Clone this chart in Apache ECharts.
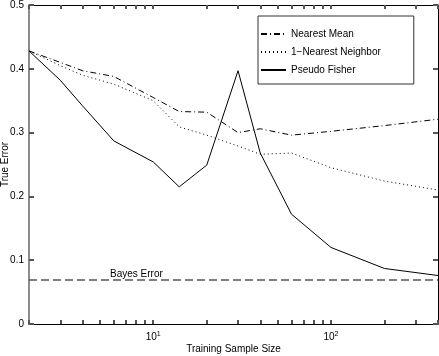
<!DOCTYPE html>
<html><head><meta charset="utf-8">
<script src="https://cdn.jsdelivr.net/npm/echarts@6/dist/echarts.min.js"></script>
<style>html,body{margin:0;padding:0;background:#fff}#c{width:439px;height:356px}</style>
</head><body><div id="c"></div>
<script>
const sampleSizes = [2, 3, 4, 6, 10, 14, 20, 30, 40, 60, 100, 200, 400];
const nearestMean = [0.428, 0.410, 0.397, 0.388, 0.355, 0.333, 0.332, 0.300, 0.306, 0.296, 0.302, 0.311, 0.321];
const nearestNeighbor = [0.428, 0.405, 0.390, 0.376, 0.350, 0.309, 0.296, 0.279, 0.266, 0.268, 0.245, 0.224, 0.210];
const pseudoFisher = [0.428, 0.382, 0.342, 0.287, 0.254, 0.215, 0.249, 0.397, 0.268, 0.172, 0.120, 0.087, 0.076];
const bayesError = 0.065;
const xTickValues = [2, 3, 4, 5, 6, 7, 8, 9, 10, 20, 30, 40, 50, 60, 70, 80, 90, 100, 200, 300, 400];
const xLabelValues = [10, 100];
const xMin = 2, xMax = 400;
const yMin = 0, yMax = 0.5, yStep = 0.1;
const seriesNames = ['Nearest Mean', '1\u2212Nearest Neighbor', 'Pseudo Fisher'];
const xName = 'Training Sample Size';
const yName = 'True Error';
const bayesLabel = 'Bayes Error';

const FONT = "'Liberation Sans', Arial, Helvetica, sans-serif";
const lg = v => Math.log10(v);
const pairs = ys => sampleSizes.map((n, i) => [lg(n), ys[i]]);

const chart = echarts.init(document.getElementById('c'), null, {renderer: 'canvas'});
const TICK_STYLE = {color: '#555', width: 2};
const xMain = (pos, extra) => Object.assign({
  type: 'value', min: lg(xMin), max: lg(xMax), position: pos,
  splitLine: {show: false},
  axisLine: {show: true, onZero: false, lineStyle: {color: '#000', width: 1}},
  axisTick: {show: false},
  axisLabel: {show: false}
}, extra || {});
// tick-only axes shifted into the plot so their outward ticks end on the frame
const xTickAxis = pos => ({
  type: 'value', min: lg(xMin), max: lg(xMax), position: pos, offset: -4,
  splitLine: {show: false}, axisLine: {show: false, onZero: false}, axisLabel: {show: false},
  axisTick: {show: true, length: 4, customValues: xTickValues.map(lg), lineStyle: TICK_STYLE}
});
const yMain = (pos, color, width, extra) => Object.assign({
  type: 'value', min: yMin, max: yMax, interval: yStep, position: pos,
  splitLine: {show: false},
  axisLine: {show: true, onZero: false, lineStyle: {color: color, width: width}},
  axisTick: {show: false},
  axisLabel: {show: false}
}, extra || {});
const yTickAxis = pos => ({
  type: 'value', min: yMin, max: yMax, interval: yStep, position: pos, offset: -5,
  splitLine: {show: false}, axisLine: {show: false, onZero: false}, axisLabel: {show: false},
  axisTick: {show: true, length: 5, lineStyle: TICK_STYLE}
});

const option = {
  backgroundColor: '#fff',
  animation: false,
  textStyle: {fontFamily: FONT},
  grid: {left: 29, right: 1, top: 5, bottom: 32, outerBoundsMode: 'none', containLabel: false},
  xAxis: [
    xMain('bottom', {
      axisLabel: {
        show: true, customValues: xLabelValues.map(lg), margin: 7,
        formatter: v => '{b|10}{s|' + Math.round(v) + '}',
        rich: {
          b: {fontSize: 10, fontFamily: FONT, color: '#000', lineHeight: 12},
          s: {fontSize: 7, fontFamily: FONT, color: '#000', padding: [0, 0, 5, 0]}
        }
      },
      name: xName, nameLocation: 'middle', nameGap: 20, nameMoveOverlap: false,
      nameTextStyle: {fontSize: 10, color: '#000', fontFamily: FONT}
    }),
    xMain('top'),
    xTickAxis('bottom'),
    xTickAxis('top')
  ],
  yAxis: [
    yMain('left', '#666', 1.5, {
      axisLabel: {show: true, fontSize: 10, color: '#000', margin: 5, fontFamily: FONT},
      name: yName, nameLocation: 'middle', nameGap: 19, nameMoveOverlap: false,
      nameTextStyle: {fontSize: 10, color: '#000', fontFamily: FONT}
    }),
    yMain('right', '#000', 1),
    yTickAxis('left'),
    yTickAxis('right')
  ],
  legend: {
    data: seriesNames, orient: 'vertical', left: 258, top: 16,
    padding: [13, 33, 9, 2], itemGap: 8, itemWidth: 25, itemHeight: 12, itemTextGap: 3,
    borderColor: '#333', borderWidth: 1, backgroundColor: '#fff',
    itemStyle: {opacity: 0},
    textStyle: {fontSize: 10, color: '#000', fontFamily: FONT}
  },
  series: [
    {name: seriesNames[0], type: 'line', data: pairs(nearestMean), symbol: 'none', z: 3,
     lineStyle: {color: '#000', width: 1, type: [6, 3, 1, 3]}, itemStyle: {color: '#000'}},
    {name: seriesNames[1], type: 'line', data: pairs(nearestNeighbor), symbol: 'none', z: 3,
     lineStyle: {color: '#000', width: 1, type: [1, 3]}, itemStyle: {color: '#000'}},
    {name: seriesNames[2], type: 'line', data: pairs(pseudoFisher), symbol: 'none', z: 3,
     lineStyle: {color: '#000', width: 1, type: 'solid'}, itemStyle: {color: '#000'}},
    {name: bayesLabel, type: 'line', data: [], symbol: 'none',
     markLine: {
       silent: true, symbol: ['none', 'none'],
       lineStyle: {color: '#555', width: 1.5, type: [8, 4]},
       label: {show: true, formatter: bayesLabel, position: 'insideStartTop', distance: [81, 0],
               fontSize: 10, color: '#000', fontFamily: FONT},
       data: [{yAxis: bayesError}]
     }}
  ]
};
chart.setOption(option);
</script>
</body></html>
